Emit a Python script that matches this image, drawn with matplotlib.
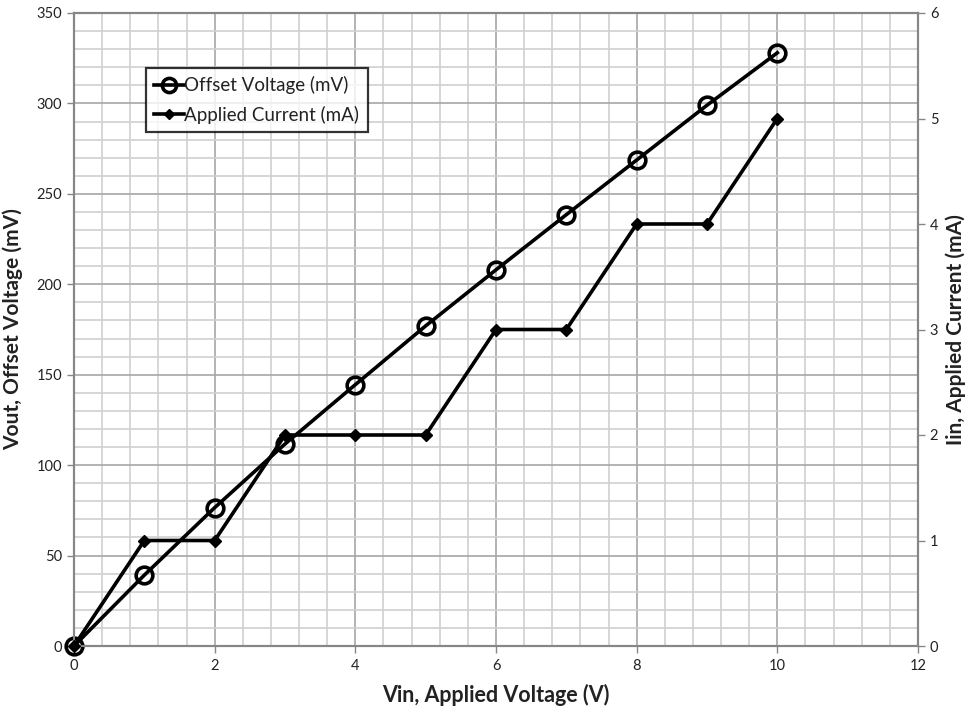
import matplotlib
matplotlib.use("Agg")
import matplotlib.pyplot as plt
from matplotlib.ticker import MultipleLocator

plt.rcParams['font.family'] = ['Lato', 'DejaVu Sans']

vin = [0, 1, 2, 3, 4, 5, 6, 7, 8, 9, 10]
offset_mv = [0, 39.2, 76.5, 111.7, 144.5, 177.0, 208.0, 238.5, 268.7, 299.0, 328.0]
current_ma = [0, 1, 1, 2, 2, 2, 3, 3, 4, 4, 5]

fig = plt.figure(figsize=(9.72, 7.08), dpi=100)
ax = fig.add_axes([74 / 972, 62 / 708, 844 / 972, 633 / 708])
ax2 = ax.twinx()

ax.set_xlim(0, 12)
ax.set_ylim(0, 350)
ax2.set_ylim(0, 6)

ax.xaxis.set_major_locator(MultipleLocator(2))
ax.xaxis.set_minor_locator(MultipleLocator(0.4))
ax.yaxis.set_major_locator(MultipleLocator(50))
ax.yaxis.set_minor_locator(MultipleLocator(10))
ax2.yaxis.set_major_locator(MultipleLocator(1))

ax.grid(which='minor', color='#d0d0d0', linewidth=1.2)
ax.grid(which='major', color='#a6a6a6', linewidth=1.2)
ax.set_axisbelow(True)

for a in (ax, ax2):
    for s in a.spines.values():
        s.set_color('#868686')
        s.set_linewidth(1.5)
    a.tick_params(which='major', length=5, color='#868686', labelsize=10.5,
                  labelcolor='#222222', width=1)
    a.tick_params(which='minor', length=0)
ax.tick_params(axis='x', pad=4)

h1, = ax.plot(vin, offset_mv, color='black', linewidth=2.6, marker='o',
              markersize=12, markerfacecolor='none', markeredgewidth=2.6,
              markeredgecolor='black', label='Offset Voltage (mV)', zorder=3,
              clip_on=False)
h2, = ax2.plot(vin, current_ma, color='black', linewidth=2.6, marker='D',
               markersize=6, label='Applied Current (mA)', zorder=3,
               clip_on=False)

ax.set_xlabel('Vin, Applied Voltage (V)', fontsize=15.5, fontweight='bold',
              color='#222222', labelpad=8)
ax.set_ylabel('Vout, Offset Voltage (mV)', fontsize=15, fontweight='bold',
              color='#222222', labelpad=10)
ax2.set_ylabel('Iin, Applied Current (mA)', fontsize=15, fontweight='bold',
               color='#222222', labelpad=5)

leg = ax.legend(handles=[h1, h2], loc='upper left', bbox_to_anchor=(72 / 844, 1 - 55 / 633),
                frameon=True, fancybox=False, fontsize=13.5, handlelength=1.6,
                handletextpad=0.0, borderpad=0.45, labelspacing=0.6, markerscale=0.85,
                borderaxespad=0.0)
leg.get_frame().set_edgecolor('black')
leg.get_frame().set_linewidth(1.6)
leg.set_zorder(5)
for t in leg.get_texts():
    t.set_color('#222222')

fig.savefig('out.png', dpi=100)
